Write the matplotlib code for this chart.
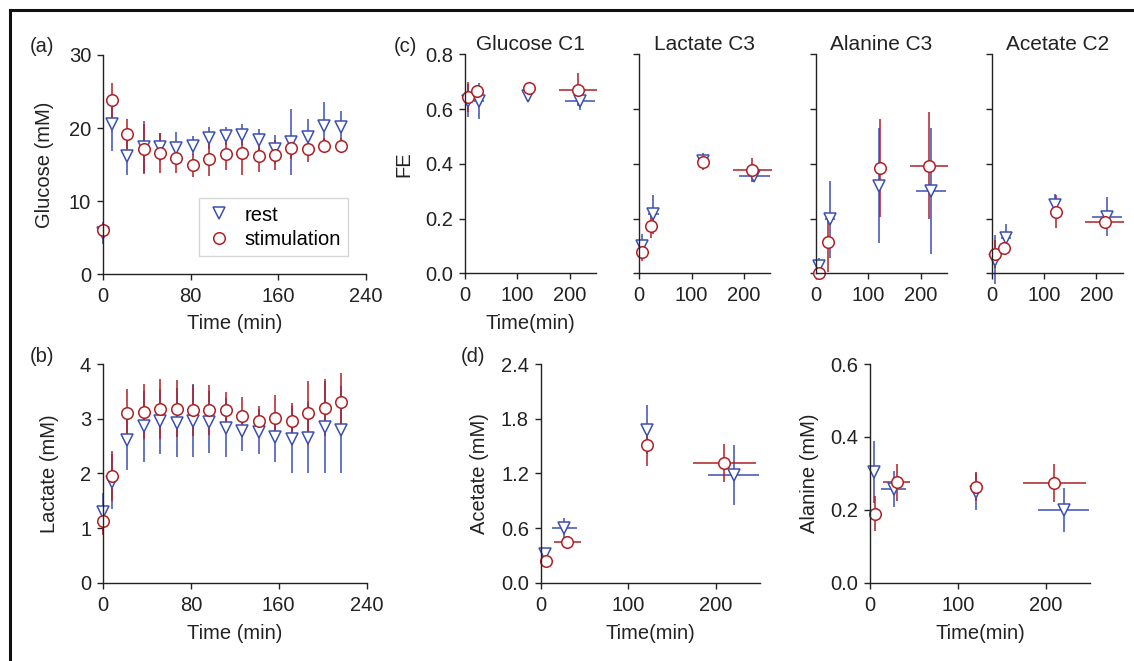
import numpy as np
import matplotlib.pyplot as plt
from matplotlib.lines import Line2D

plt.rcParams['font.family'] = ['Liberation Sans', 'DejaVu Sans']

# -----------------------------
# Data
# -----------------------------
BLUE = '#3b4fb2'
RED = '#b01f24'

# (a) glucose and (b) lactate, time course
times_ab = [0, 8, 22, 37, 52, 67, 82, 97, 112, 127, 142, 157, 172, 187, 202, 217]

glu_rest = [5.6, 20.6, 16.1, 17.4, 17.4, 17.3, 17.6, 18.6, 18.9, 19.1, 18.4, 17.1, 18.1, 18.7, 20.3, 20.1]
glu_rest_err = [1.5, 3.8, 2.6, 3.5, 1.9, 2.1, 1.3, 1.5, 1.2, 1.4, 1.5, 2.0, 4.5, 2.5, 3.3, 2.2]
glu_stim = [6.0, 23.8, 19.2, 17.1, 16.6, 15.9, 14.9, 15.8, 16.5, 16.6, 16.1, 16.3, 17.2, 17.1, 17.6, 17.6]
glu_stim_err = [0.5, 2.4, 2.1, 3.4, 2.7, 2.0, 1.6, 2.4, 2.2, 3.0, 2.1, 2.0, 1.5, 1.7, 1.0, 1.0]

lac_rest = [1.29, 1.85, 2.61, 2.86, 2.95, 2.93, 2.96, 2.94, 2.83, 2.78, 2.76, 2.66, 2.62, 2.65, 2.84, 2.80]
lac_rest_err = [0.35, 0.5, 0.55, 0.65, 0.6, 0.63, 0.67, 0.57, 0.54, 0.37, 0.41, 0.45, 0.62, 0.65, 0.84, 0.8]
lac_stim = [1.12, 1.95, 3.10, 3.13, 3.17, 3.18, 3.15, 3.16, 3.16, 3.05, 2.96, 3.02, 2.96, 3.10, 3.20, 3.30]
lac_stim_err = [0.25, 0.45, 0.45, 0.5, 0.55, 0.52, 0.47, 0.46, 0.32, 0.34, 0.28, 0.42, 0.33, 0.58, 0.52, 0.53]

# (c) fractional enrichment
fe_titles = ['Glucose C1', 'Lactate C3', 'Alanine C3', 'Acetate C2']
fe_t_rest = [6, 27, 121, 220]
fe_terr_rest = [0, 10, 0, 29]
fe_t_stim = [6, 23, 122, 216]
fe_terr_stim = [0, 0, 0, 37]

fe_rest = [
    [0.63, 0.63, 0.646, 0.63],
    [0.10, 0.215, 0.41, 0.355],
    [0.025, 0.197, 0.32, 0.30],
    [0.05, 0.13, 0.25, 0.207],
]
fe_rest_err = [
    [0.06, 0.065, 0.015, 0.032],
    [0.045, 0.07, 0.03, 0.02],
    [0.03, 0.14, 0.21, 0.23],
    [0.09, 0.05, 0.04, 0.07],
]
fe_stim = [
    [0.645, 0.666, 0.676, 0.670],
    [0.076, 0.174, 0.407, 0.378],
    [0.0, 0.113, 0.384, 0.393],
    [0.071, 0.091, 0.225, 0.189],
]
fe_stim_err = [
    [0.055, 0.02, 0.01, 0.06],
    [0.03, 0.045, 0.03, 0.043],
    [0.01, 0.107, 0.18, 0.195],
    [0.05, 0.01, 0.06, 0.02],
]

# (d) acetate and alanine concentrations
d_t_rest = [5, 27, 121, 220]
d_terr_rest = [0, 14, 0, 29]
d_t_stim = [6, 30.5, 121, 209.5]
d_terr_stim = [0, 15.5, 0, 36]

ace_rest = [0.32, 0.60, 1.68, 1.18]
ace_rest_err = [0.04, 0.11, 0.27, 0.33]
ace_stim = [0.238, 0.446, 1.51, 1.31]
ace_stim_err = [0.03, 0.03, 0.23, 0.21]

ala_rest = [0.305, 0.257, 0.25, 0.20]
ala_rest_err = [0.085, 0.05, 0.05, 0.06]
ala_stim = [0.189, 0.275, 0.263, 0.274]
ala_stim_err = [0.048, 0.05, 0.04, 0.052]

# -----------------------------
# Helpers
# -----------------------------
W, H = 1134, 661
FS = 14.5
INK = '#222222'


def px_axes(fig, left, top, right, bottom):
    return fig.add_axes([left / W, 1 - bottom / H, (right - left) / W, (bottom - top) / H])


def style(ax):
    for s in ['top', 'right']:
        ax.spines[s].set_visible(False)
    for s in ['left', 'bottom']:
        ax.spines[s].set_color(INK)
        ax.spines[s].set_linewidth(1.0)
    ax.tick_params(direction='out', length=4.5, width=1.0, color=INK,
                   labelsize=FS, labelcolor=INK)
    ax.tick_params(axis='x', pad=5)
    ax.tick_params(axis='y', pad=4)


def series(ax, t, y, yerr, color, marker, xerr=None):
    ax.errorbar(t, y, yerr=yerr, xerr=xerr, fmt=marker, ms=8.3, mfc='white',
                mec=color, mew=1.1, ecolor=color, elinewidth=1.1, capsize=0,
                color=color, clip_on=False)


def labels(ax, xl, yl, xpos, ypos):
    if xl:
        ax.set_xlabel(xl, fontsize=FS, color=INK)
        ax.xaxis.set_label_coords(0.5, xpos)
        ax.xaxis.label.set_va('center')
    if yl:
        ax.set_ylabel(yl, fontsize=FS, color=INK)
        ax.yaxis.set_label_coords(ypos, 0.5)
        ax.yaxis.label.set_va('center')


fig = plt.figure(figsize=(W / 100, H / 100), dpi=100)

# outer frame (top and left edges)
fig.add_artist(Line2D([10 / W, 1], [1 - 10 / H, 1 - 10 / H], color='#111111', lw=2.2))
fig.add_artist(Line2D([10 / W, 10 / W], [0, 1 - 10 / H], color='#111111', lw=2.2))

# ---- (a)
ax = px_axes(fig, 103, 55, 366, 274)
style(ax)
series(ax, times_ab, glu_rest, glu_rest_err, BLUE, 'v')
series(ax, times_ab, glu_stim, glu_stim_err, RED, 'o')
ax.set_xlim(0, 240)
ax.set_ylim(0, 30)
ax.set_xticks([0, 80, 160, 240])
ax.set_yticks([0, 10, 20, 30])
labels(ax, 'Time (min)', 'Glucose (mM)', -0.224, -0.221)
handles = [
    Line2D([], [], ls='none', marker='v', ms=8.3, mfc='white', mec=BLUE, mew=1.1),
    Line2D([], [], ls='none', marker='o', ms=8.3, mfc='white', mec=RED, mew=1.1),
]
leg = ax.legend(handles, ['rest', 'stimulation'], loc='lower right',
                bbox_to_anchor=(0.93, 0.084), fontsize=FS, frameon=True,
                fancybox=False, edgecolor='#cccccc', handletextpad=0.6,
                borderpad=0.35, labelspacing=0.25, handlelength=1.3,
                borderaxespad=0)
leg.get_frame().set_linewidth(1.0)

# ---- (b)
ax = px_axes(fig, 103, 364, 366.5, 582.7)
style(ax)
series(ax, times_ab, lac_rest, lac_rest_err, BLUE, 'v')
series(ax, times_ab, lac_stim, lac_stim_err, RED, 'o')
ax.set_xlim(0, 240)
ax.set_ylim(0, 4)
ax.set_xticks([0, 80, 160, 240])
ax.set_yticks([0, 1, 2, 3, 4])
labels(ax, 'Time (min)', 'Lactate (mM)', -0.23, -0.202)

# ---- (c)
c_lefts = [465, 639.3, 816, 991.7]
for i, left in enumerate(c_lefts):
    ax = px_axes(fig, left, 54.3, left + 130.8, 273.3)
    style(ax)
    series(ax, fe_t_rest, fe_rest[i], fe_rest_err[i], BLUE, 'v', xerr=fe_terr_rest)
    series(ax, fe_t_stim, fe_stim[i], fe_stim_err[i], RED, 'o', xerr=fe_terr_stim)
    ax.set_xlim(0, 250)
    ax.set_ylim(0, 0.8)
    ax.set_xticks([0, 100, 200])
    ax.set_yticks([0, 0.2, 0.4, 0.6, 0.8])
    ax.set_title(fe_titles[i], fontsize=FS + 0.5, color=INK, pad=3)
    if i == 0:
        ax.set_yticklabels(['0.0', '0.2', '0.4', '0.6', '0.8'])
        labels(ax, 'Time(min)', 'FE', -0.227, -0.466)
    else:
        ax.set_yticklabels([])

# ---- (d)
ax = px_axes(fig, 540.7, 364, 760, 582.7)
style(ax)
series(ax, d_t_rest, ace_rest, ace_rest_err, BLUE, 'v', xerr=d_terr_rest)
series(ax, d_t_stim, ace_stim, ace_stim_err, RED, 'o', xerr=d_terr_stim)
ax.set_xlim(0, 250)
ax.set_ylim(0, 2.4)
ax.set_xticks([0, 100, 200])
ax.set_yticks([0, 0.6, 1.2, 1.8, 2.4])
ax.set_yticklabels(['0.0', '0.6', '1.2', '1.8', '2.4'])
labels(ax, 'Time(min)', 'Acetate (mM)', -0.23, -0.277)

ax = px_axes(fig, 870, 364, 1090, 582.7)
style(ax)
series(ax, d_t_rest, ala_rest, ala_rest_err, BLUE, 'v', xerr=d_terr_rest)
series(ax, d_t_stim, ala_stim, ala_stim_err, RED, 'o', xerr=d_terr_stim)
ax.set_xlim(0, 250)
ax.set_ylim(0, 0.6)
ax.set_xticks([0, 100, 200])
ax.set_yticks([0, 0.2, 0.4, 0.6])
ax.set_yticklabels(['0.0', '0.2', '0.4', '0.6'])
labels(ax, 'Time(min)', 'Alanine (mM)', -0.23, -0.277)

# panel letters
for txt, x, y in [('(a)', 42, 47), ('(b)', 42, 357), ('(c)', 405, 47), ('(d)', 473, 357)]:
    fig.text(x / W, 1 - y / H, txt, fontsize=FS, ha='center', va='center', color=INK)

fig.savefig('out.png', dpi=100)
